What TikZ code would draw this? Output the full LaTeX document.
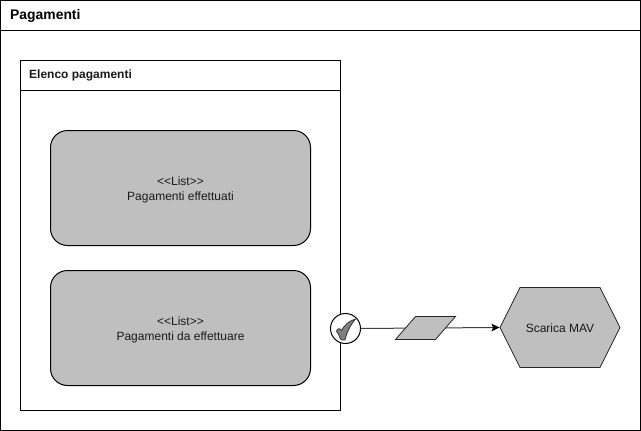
\documentclass[tikz,border=0pt]{standalone}
\usepackage{fontspec}
\setmainfont{Liberation Sans}
\usetikzlibrary{shapes.geometric,shapes.symbols,arrows.meta}
\definecolor{boxgray}{RGB}{191,191,191}
\definecolor{txt}{RGB}{26,26,26}
\newcommand{\lowtext}[2]{\raisebox{-5pt}[0pt][0pt]{\begin{tabular}{@{}c@{}}#1\\#2\end{tabular}}}
\tikzset{
  x=1pt,y=-1pt,
  frame/.style={draw=black,line width=1pt,fill=white},
  listbox/.style={draw=black,line width=1pt,fill=boxgray,rounded corners=17pt,minimum width=260pt,minimum height=115pt,inner sep=0pt,font=\fontsize{12pt}{15.5pt}\selectfont,text=txt},
  conn/.style={draw=black!75,line width=1pt},
  titletext/.style={anchor=west,inner sep=0pt,text=black},
}
\begin{document}
\begin{tikzpicture}
\useasboundingbox (0,0) rectangle (641,431);
\node[frame,minimum width=640pt,minimum height=430pt,inner sep=0pt] (outer) at (320.5,215.5) {};
\coordinate (outerhl) at (0.5,30.5);
\coordinate (outerhr) at (640.5,30.5);
\draw[line width=1pt] (outerhl) -- (outerhr);
\node[titletext,font=\fontsize{13.9pt}{16pt}\selectfont\bfseries] (outertitle) at (10,15.5) {Pagamenti};
\node[frame,minimum width=320pt,minimum height=350pt,inner sep=0pt] (inner) at (180.5,235.5) {};
\coordinate (innerhl) at (20.5,90.5);
\coordinate (innerhr) at (340.5,90.5);
\draw[line width=1pt] (innerhl) -- (innerhr);
\node[titletext,font=\fontsize{12pt}{15pt}\selectfont\bfseries,text=txt] (innertitle) at (29,75.5) {Elenco pagamenti};
\node[listbox] (l1) at (180.5,188) {\lowtext{<{}<List>{}>}{Pagamenti effettuati}};
\node[listbox] (l2) at (180.5,328) {\lowtext{<{}<List>{}>}{Pagamenti da effettuare}};
\node[circle,draw=black,fill=white,line width=1pt,minimum size=30pt,inner sep=0pt] (chk) at (345.5,328.5) {};
\draw[draw=black!80,fill=black!50,line width=0.8pt,line join=round]
  (336.5,331) .. controls (338,328) and (340,328) .. (341.5,330.5)
  .. controls (344,325.5) and (349.5,320.5) .. (355.5,319)
  .. controls (350,325.5) and (346.5,333) .. (345,340)
  .. controls (343,340.5) and (341,340) .. (340.5,339)
  .. controls (339.5,336) and (338,333) .. (336.5,331) -- cycle;
\node[minimum width=60pt,minimum height=23pt,inner sep=0pt] (para) at (425.5,328) {};
\node[signal,signal from=nowhere,signal to=east and west,signal pointer angle=126.87,draw=black!85,fill=boxgray,line width=0.8pt,minimum width=120pt,minimum height=80pt,inner sep=0pt,font=\fontsize{12pt}{15pt}\selectfont,text=txt] (hex) at (560,327.5) {\raisebox{-5pt}[0pt][0pt]{Scarica MAV}};
\draw[conn] (chk.east) -- (para.center);
\draw[conn,-{Stealth[length=8pt,width=7.5pt,inset=1.5pt,black]}] (para.center) -- (hex.west);
\draw[draw=black!85,fill=boxgray,line width=0.8pt,line join=miter] (395.5,339.5) -- (415.5,316.5) -- (455.5,316.5) -- (435.5,339.5) -- cycle;
\end{tikzpicture}
\end{document}
